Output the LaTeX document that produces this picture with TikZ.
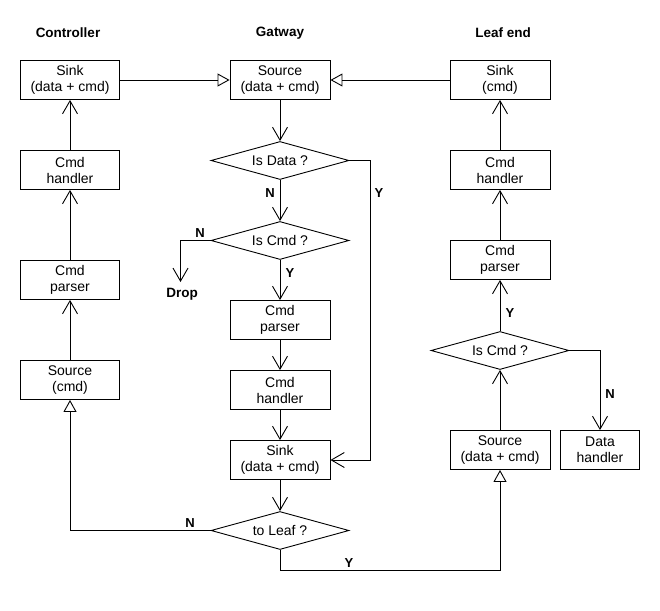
\documentclass[tikz,border=0pt]{standalone}
\usepackage{fontspec}
\setmainfont{Liberation Sans}
\usetikzlibrary{arrows.meta,shapes.geometric}
\begin{document}
\begin{tikzpicture}[x=1pt,y=-1pt,
  every path/.style={line width=0.9pt},
  box/.style={draw, rectangle, minimum width=99pt, minimum height=39pt, inner sep=0pt, align=center, font=\fontsize{14}{16}\selectfont},
  dec/.style={draw, diamond, aspect=3.6, minimum width=138pt, minimum height=38pt, inner sep=0pt, font=\fontsize{14}{16}\selectfont},
  head/.style={font=\bfseries\fontsize{13.5}{16}\selectfont},
  lab/.style={font=\bfseries\fontsize{13}{15}\selectfont, inner sep=0pt},
  flow/.style={-{Straight Barb[length=13pt,width=15pt]}},
  inh/.style={-{Triangle[open,length=12pt,width=13pt]}}]
\useasboundingbox (0,0) rectangle (660,610);
% titles
\node[head] (tc) at (68,33) {Controller};
\node[head] (tg) at (280,33) {Gatway};
\node[head] (tl) at (503,33) {Leaf end};
% controller
\node[box] (csink) at (70,80) {Sink\\(data + cmd)};
\node[box] (chand) at (70,170) {Cmd\\handler};
\node[box] (cpars) at (70,280) {Cmd\\parser};
\node[box] (csrc) at (70,380) {Source\\(cmd)};
% gateway
\node[box, minimum width=100pt] (gsrc) at (280,80) {Source\\(data + cmd)};
\node[dec] (gdata) at (280,160.5) {Is Data ?};
\node[dec] (gcmd) at (280,240.5) {Is Cmd ?};
\node[box, minimum width=100pt] (gpars) at (280,320) {Cmd\\parser};
\node[box, minimum width=100pt] (ghand) at (280,390) {Cmd\\handler};
\node[box, minimum width=100pt] (gsink) at (280,460) {Sink\\(data + cmd)};
\node[dec] (gleaf) at (280,530.5) {to Leaf ?};
\node[head] (drop) at (182,294) {Drop};
\coordinate (dropend) at (180.5,282);
% leaf
\node[box, minimum width=100pt] (lsink) at (500,80) {Sink\\(cmd)};
\node[box, minimum width=100pt] (lhand) at (500,170) {Cmd\\handler};
\node[box, minimum width=100pt] (lpars) at (500,260) {Cmd\\parser};
\node[dec] (lcmd) at (500,350.5) {Is Cmd ?};
\node[box, minimum width=100pt] (lsrc) at (500,450) {Source\\(data + cmd)};
\node[box, minimum width=79pt] (ldata) at (600,450) {Data\\handler};
% controller flow
\draw[flow] (csrc) -- (cpars);
\draw[flow] (cpars) -- (chand);
\draw[flow] (chand) -- (csink);
\draw[inh] (csink) -- (gsrc);
\draw[inh] (lsink) -- (gsrc);
% gateway flow
\draw[flow] (gsrc) -- (gdata);
\draw[flow] (gdata) -- (gcmd);
\draw[flow] (gdata.east) -- (370.7,160.5) |- (gsink.east);
\draw[flow] (gcmd.west) -| (dropend);
\draw[flow] (gcmd) -- (gpars);
\draw[flow] (gpars) -- (ghand);
\draw[flow] (ghand) -- (gsink);
\draw[flow] (gsink) -- (gleaf);
\draw[inh] (gleaf.west) -| (csrc.south);
\draw[inh] (gleaf.south) |- (400,570) -| (lsrc.south);
% leaf flow
\draw[flow] (lsrc) -- (lcmd);
\draw[flow] (lcmd) -- (lpars);
\draw[flow] (lpars) -- (lhand);
\draw[flow] (lhand) -- (lsink);
\draw[flow] (lcmd.east) -| (ldata.north);
% labels
\node[lab] (l1) at (270,193) {N};
\node[lab] (l2) at (379,193) {Y};
\node[lab] (l3) at (200,233) {N};
\node[lab] (l4) at (290,273) {Y};
\node[lab] (l5) at (190,523) {N};
\node[lab] (l6) at (349,563) {Y};
\node[lab] (l7) at (510,313) {Y};
\node[lab] (l8) at (610,394) {N};
\end{tikzpicture}
\end{document}
